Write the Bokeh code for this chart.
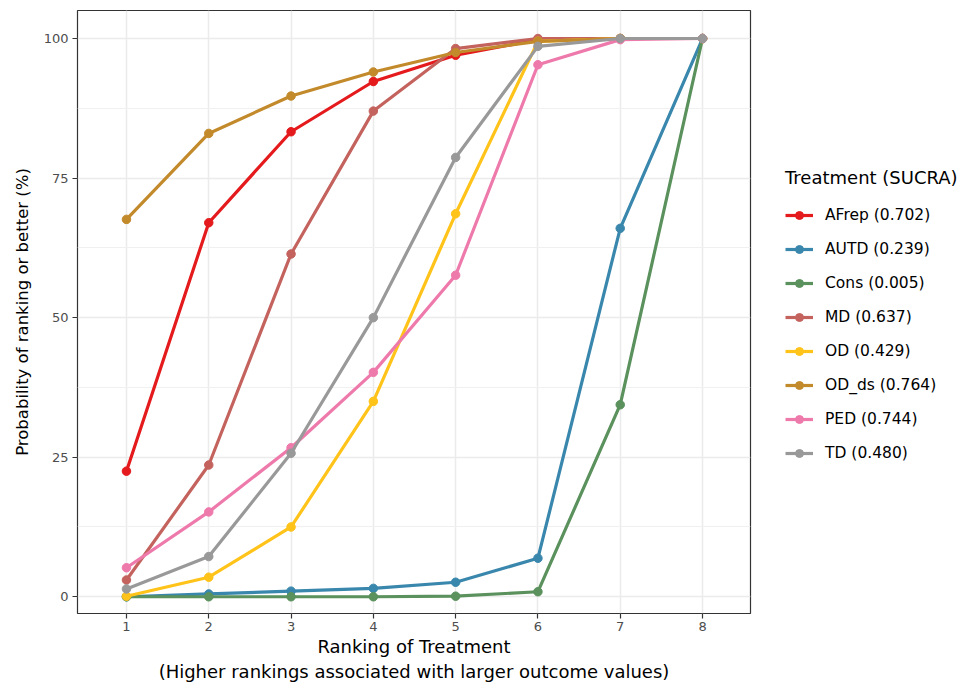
from bokeh.plotting import figure
from bokeh.layouts import row
from bokeh.models import Range1d, FixedTicker, Legend, LegendItem
from bokeh.embed import file_html
from bokeh.resources import INLINE

# ---- data ----
ranks = [1, 2, 3, 4, 5, 6, 7, 8]
treatments = ["AFrep", "AUTD", "Cons", "MD", "OD", "OD_ds", "PED", "TD"]
sucra = ["0.702", "0.239", "0.005", "0.637", "0.429", "0.764", "0.744", "0.480"]

afrep = [22.5, 67.0, 83.3, 92.3, 97.0, 99.8, 100.0, 100.0]
autd = [0.0, 0.5, 1.0, 1.5, 2.6, 6.9, 66.0, 100.0]
cons = [0.0, 0.0, 0.0, 0.0, 0.1, 0.9, 34.4, 100.0]
md = [3.0, 23.6, 61.4, 87.0, 98.2, 100.0, 100.0, 100.0]
od = [0.1, 3.5, 12.5, 35.0, 68.6, 99.5, 100.0, 100.0]
od_ds = [67.6, 83.0, 89.7, 94.0, 97.5, 99.5, 100.0, 100.0]
ped = [5.2, 15.2, 26.7, 40.2, 57.6, 95.3, 99.8, 100.0]
td = [1.4, 7.2, 25.7, 50.0, 78.7, 98.6, 100.0, 100.0]

series = [afrep, autd, cons, md, od, od_ds, ped, td]
colors = ["#e41a1c", "#3a87ad", "#5a915c", "#c4635e",
          "#ffc31a", "#c38a2c", "#ee7aac", "#999999"]

y_ticks = [0, 25, 50, 75, 100]
y_minor = [12.5, 37.5, 62.5, 87.5]

FONT = "DejaVu Sans"
LINE_W = 3.2
PT_SIZE = 8.5

# ---------------- main plot ----------------
p = figure(width=752, height=684, output_backend="svg", toolbar_location=None,
           x_range=Range1d(0.405, 8.583), y_range=Range1d(-3.0, 105.02),
           min_border_left=77, min_border_right=2, min_border_top=10,
           min_border_bottom=61)

p.background_fill_color = "white"
p.border_fill_color = "white"
p.outline_line_color = "#333333"
p.outline_line_width = 1.2

# grids
p.xgrid.ticker = FixedTicker(ticks=ranks)
p.ygrid.ticker = FixedTicker(ticks=y_ticks, minor_ticks=y_minor)
for g in (p.xgrid[0], p.ygrid[0]):
    g.grid_line_color = "#ebebeb"
    g.grid_line_width = 1.5
p.ygrid.minor_grid_line_color = "#f0f0f0"
p.ygrid.minor_grid_line_width = 1

# axes
p.xaxis.ticker = FixedTicker(ticks=ranks)
p.yaxis.ticker = FixedTicker(ticks=y_ticks)
for ax in (p.xaxis[0], p.yaxis[0]):
    ax.axis_line_color = None
    ax.major_tick_line_color = "#333333"
    ax.major_tick_line_width = 1.2
    ax.major_tick_out = 5
    ax.major_tick_in = 0
    ax.minor_tick_line_color = None
    ax.major_label_text_color = "#4d4d4d"
    ax.major_label_text_font = FONT
    ax.major_label_text_font_size = "13px"
    ax.axis_label_text_font = FONT
    ax.axis_label_text_font_style = "normal"
    ax.axis_label_text_color = "black"

p.xaxis.axis_label = "Ranking of Treatment\n(Higher rankings associated with larger outcome values)"
p.xaxis.axis_label_text_font_size = "18px"
p.xaxis.major_label_standoff = 3
p.xaxis.axis_label_standoff = 2
p.xaxis.axis_label_text_align = "center"

p.yaxis.axis_label = "Probability of ranking or better (%)"
p.yaxis.axis_label_text_font_size = "16.5px"
p.yaxis.major_label_standoff = 4
p.yaxis.axis_label_standoff = 9

for vals, col in zip(series, colors):
    p.line(ranks, vals, line_color=col, line_width=LINE_W)
    p.scatter(ranks, vals, size=PT_SIZE, fill_color=col, line_color=col)

# ---------------- legend panel ----------------
lg = figure(width=211, height=684, output_backend="svg", toolbar_location=None,
            x_range=Range1d(-20, -19), y_range=Range1d(-20, -19),
            x_axis_type=None, y_axis_type=None,
            min_border_left=0, min_border_right=0, min_border_top=0,
            min_border_bottom=0)
lg.outline_line_color = None
lg.background_fill_color = "white"
lg.border_fill_color = "white"

items = []
for name, s, vals, col in zip(treatments, sucra, series, colors):
    ln = lg.line(ranks, vals, line_color=col, line_width=LINE_W)
    sc = lg.scatter(ranks, vals, size=PT_SIZE, fill_color=col, line_color=col)
    items.append(LegendItem(label=f"{name} ({s})", renderers=[ln, sc]))

legend = Legend(items=items, location=(33, 150),
                title="Treatment (SUCRA)",
                title_text_font=FONT, title_text_font_size="18px",
                title_text_font_style="normal", title_text_color="black",
                title_standoff=17,
                label_text_font=FONT, label_text_font_size="15.5px",
                label_text_color="black",
                glyph_width=28, glyph_height=20, label_height=20,
                label_standoff=12, spacing=14, padding=0, margin=0,
                border_line_color=None, background_fill_alpha=0)
lg.add_layout(legend, "center")

layout = row(p, lg)
open("out.html", "w").write(file_html(layout, INLINE))
